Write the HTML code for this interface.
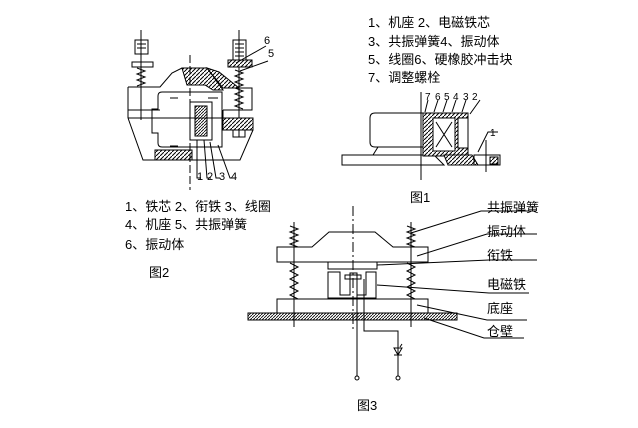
<!DOCTYPE html>
<html><head><meta charset="utf-8"><style>
html,body{margin:0;padding:0;background:#fff;}
svg text{font-family:"Liberation Sans","Noto Sans CJK SC",sans-serif;font-size:13px;fill:#000;}
</style></head><body>
<svg width="638" height="423" viewBox="0 0 638 423" xmlns="http://www.w3.org/2000/svg">
<defs>
<pattern id="h" width="3" height="3" patternUnits="userSpaceOnUse"><path d="M0 3L3 0" stroke="#000" stroke-width="0.8"/></pattern>
<pattern id="h2" width="4" height="4" patternUnits="userSpaceOnUse"><rect width="4" height="4" fill="#fff"/><path d="M0 4L4 0" stroke="#000" stroke-width="1"/></pattern>
</defs>
<g fill="none" stroke="#000" stroke-width="1">
<!-- Fig 2 -->
<line x1="141" y1="30" x2="141" y2="120"/><line x1="239" y1="30" x2="239" y2="137"/>
<rect x="135" y="40" width="13" height="14"/><rect x="233" y="40" width="13" height="20"/>
<path d="M137 44h9M137 48h9M235 44h9M235 48h9M235 52h9M235 56h9"/>
<rect x="132" y="62" width="21" height="5"/><rect x="228" y="60" width="24" height="7" fill="url(#h2)"/>
<path d="M137 68l8 3l-8 3l8 3l-8 3l8 3l-8 3M235 70l8 3l-8 3l8 3l-8 3l8 3l-8 3l8 3l-8 3l8 3l-8 3l8 3l-8 3l8 3"/>
<rect x="233" y="127" width="12" height="10"/>
<path d="M128 87h32l12-14l10-5h25l16 22M128 87v23h32M128 118h125v12M128 118l15 42h97l13-30M128 118v-8"/>
<path d="M223 88h29v22h-29M223 110v8"/>
<path d="M182 68l25 0l16 22h-10l-8-5h-18z" fill="url(#h2)"/>
<path d="M207 68l12 4l20 16h-16z" fill="url(#h2)"/>
<rect x="223" y="118" width="30" height="12" fill="url(#h2)"/>
<rect x="155" y="150" width="37" height="10" fill="url(#h2)"/>
<path d="M162 92h60v55h-60q-4 0-4-4v-10h-6v-24h6v-13q0-4 4-4z"/>
<rect x="190" y="102" width="22" height="38"/>
<rect x="195" y="106" width="12" height="30" fill="url(#h)"/>
<path d="M170 98h8M208 98h10M170 146h8"/>
<line x1="190" y1="55" x2="190" y2="190" stroke-dasharray="8,3"/>
<path d="M197 140v38h4M204 140l3 38h4M210 142l6 36h4M218 145l12 33h5M236 63l30-17M240 71l28-10"/>
<!-- Fig 1 -->
<line x1="421" y1="92" x2="421" y2="180"/>
<path d="M375 113h48v34h-48q-5 0-5-5v-24q0-5 5-5z"/>
<path d="M378 147l-5 8M342 155h92l10 10h-102z"/>
<rect x="423" y="113" width="45" height="43" fill="url(#h2)"/>
<rect x="433" y="118" width="22" height="33" fill="#fff"/>
<path d="M436 122l16 25M452 122l-16 25"/>
<rect x="458" y="118" width="10" height="30" fill="#fff"/>
<path d="M444 155h28l6 10h-30z" fill="url(#h2)"/>
<rect x="474" y="155" width="26" height="10"/>
<rect x="490" y="157" width="8" height="7" fill="url(#h2)"/>
<line x1="486" y1="140" x2="486" y2="172"/>
<path d="M425 112l3-12M434 112l4-12M443 112l4-12M452 112l4-12M462 112l4-12M470 114l10-14M478 152l10-20h10"/>
<!-- Fig 3 -->
<line x1="353" y1="206" x2="353" y2="330" stroke-dasharray="10,3,2,3"/>
<line x1="294" y1="222" x2="294" y2="327"/><line x1="411" y1="222" x2="411" y2="327"/>
<path d="M290 226l8 3l-8 3l8 3l-8 3l8 3l-8 3l8 3M407 226l8 3l-8 3l8 3l-8 3l8 3l-8 3l8 3"/>
<path d="M290 263l8 4l-8 4l8 4l-8 4l8 4l-8 4l8 4l-8 4l8 4M407 263l8 4l-8 4l8 4l-8 4l8 4l-8 4l8 4l-8 4l8 4"/>
<path d="M277 247h35l17-15h46l18 15h35v15h-151z"/>
<rect x="328" y="262" width="49" height="7"/>
<path d="M328 272h12v23h10v-22h7v22h9v-23h10v26h-48z"/>
<rect x="345" y="275" width="16" height="4"/>
<rect x="277" y="299" width="151" height="14"/>
<rect x="248" y="313" width="209" height="7" fill="url(#h)"/>
<path d="M357 279v97M364 279v52h34v45"/>
<circle cx="357" cy="378" r="2"/><circle cx="398" cy="378" r="2"/>
<path d="M394 348h8l-4 7zM394 355h8M400 347l2-3"/>
<path d="M411 233l70-22h55M417 256l70-22h50M377 265l112-5h48M377 285l112 8h40M417 305l70 15h40M424 318l60 20h40"/>
</g>
<text x="425" y="100" style="font-size:10px">7</text><text x="435" y="100" style="font-size:10px">6</text><text x="444" y="100" style="font-size:10px">5</text><text x="453" y="100" style="font-size:10px">4</text><text x="463" y="100" style="font-size:10px">3</text><text x="472" y="100" style="font-size:10px">2</text><text x="490" y="136" style="font-size:10px">1</text>
<text x="125" y="211">1、铁芯 2、衔铁 3、线圈</text>
<text x="125" y="229">4、机座 5、共振弹簧</text>
<text x="125" y="249">6、振动体</text>
<text x="149" y="277">图2</text>
<text x="197" y="180" style="font-size:11px">1</text><text x="207" y="180" style="font-size:11px">2</text><text x="219" y="180" style="font-size:11px">3</text><text x="231" y="180" style="font-size:11px">4</text>
<text x="264" y="44" style="font-size:11px">6</text><text x="268" y="57" style="font-size:11px">5</text>
<text x="368" y="27">1、机座 2、电磁铁芯</text>
<text x="368" y="46">3、共振弹簧4、振动体</text>
<text x="368" y="64">5、线圈6、硬橡胶冲击块</text>
<text x="368" y="82">7、调整螺栓</text>
<text x="410" y="202">图1</text>
<text x="487" y="212">共振弹簧</text>
<text x="487" y="236">振动体</text>
<text x="487" y="260">衔铁</text>
<text x="487" y="289">电磁铁</text>
<text x="487" y="313">底座</text>
<text x="487" y="336">仓壁</text>
<text x="357" y="410">图3</text>
</svg>
</body></html>
